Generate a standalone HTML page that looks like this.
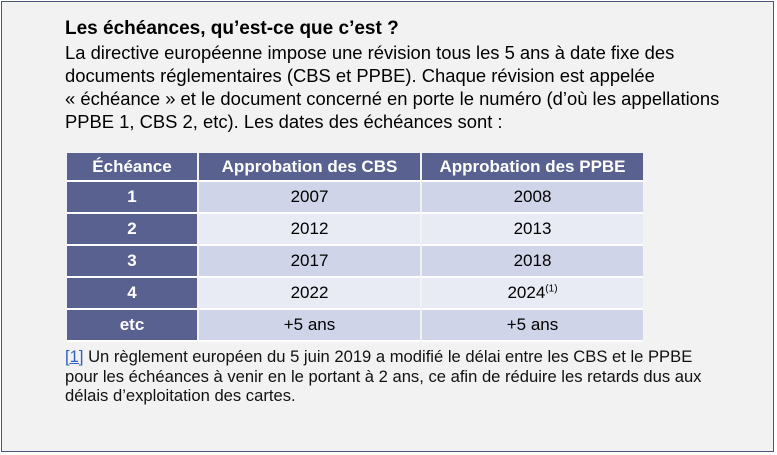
<!DOCTYPE html>
<html><head><meta charset="utf-8"><style>
body{margin:0;width:777px;height:455px;background:#fff;overflow:hidden;font-family:"Liberation Sans",sans-serif}
.box{position:absolute;left:1px;top:1px;width:773px;height:451px;background:#f2f2f2;border:1px solid #4b5679;box-sizing:border-box}
.t{position:absolute;left:65px;top:18px;font-size:19px;font-weight:bold;color:#000}
.p{position:absolute;left:65px;top:41px;font-size:18.4px;line-height:23px;color:#000;width:720px;white-space:nowrap}
table{position:absolute;left:65px;top:153px;border-collapse:separate;border-spacing:2px 0;font-family:"Liberation Sans",sans-serif;font-size:17px}
td{text-align:center;height:30px;padding:0;border-bottom:2px solid #fff}
th{background:#58618f;color:#fff;font-weight:bold;height:27px;border-bottom:2px solid #fff;font-size:17px;padding:0}
td.k{background:#58618f;color:#fff;font-weight:bold}
tr.a td{background:#cfd4e8}tr.b td{background:#e8eaf4}
tr.a td.k,tr.b td.k{background:#58618f}
.f{position:absolute;left:65px;top:347px;font-size:16.6px;line-height:19.5px;color:#111;white-space:nowrap}
.f a{color:#2b5fc4;text-decoration:underline}
sup{font-size:10px}
</style></head><body><div class="box"></div>
<div class="t">Les échéances, qu’est-ce que c’est ?</div>
<div class="p">La directive européenne impose une révision tous les 5 ans à date fixe des<br>documents réglementaires (CBS et PPBE). Chaque révision est appelée<br>« échéance » et le document concerné en porte le numéro (d’où les appellations<br>PPBE 1, CBS 2, etc). Les dates des échéances sont :</div>
<table>
<tr><th style="width:130px">Échéance</th><th style="width:221px">Approbation des CBS</th><th style="width:221px">Approbation des PPBE</th></tr>
<tr class="a"><td class="k">1</td><td>2007</td><td>2008</td></tr>
<tr class="b"><td class="k">2</td><td>2012</td><td>2013</td></tr>
<tr class="a"><td class="k">3</td><td>2017</td><td>2018</td></tr>
<tr class="b"><td class="k">4</td><td>2022</td><td>2024<sup>(1)</sup></td></tr>
<tr class="a"><td class="k">etc</td><td>+5 ans</td><td>+5 ans</td></tr>
</table>
<div class="f"><a>[1]</a> Un règlement européen du 5 juin 2019 a modifié le délai entre les CBS et le PPBE<br>pour les échéances à venir en le portant à 2 ans, ce afin de réduire les retards dus aux<br>délais d’exploitation des cartes.</div>
</body></html>
